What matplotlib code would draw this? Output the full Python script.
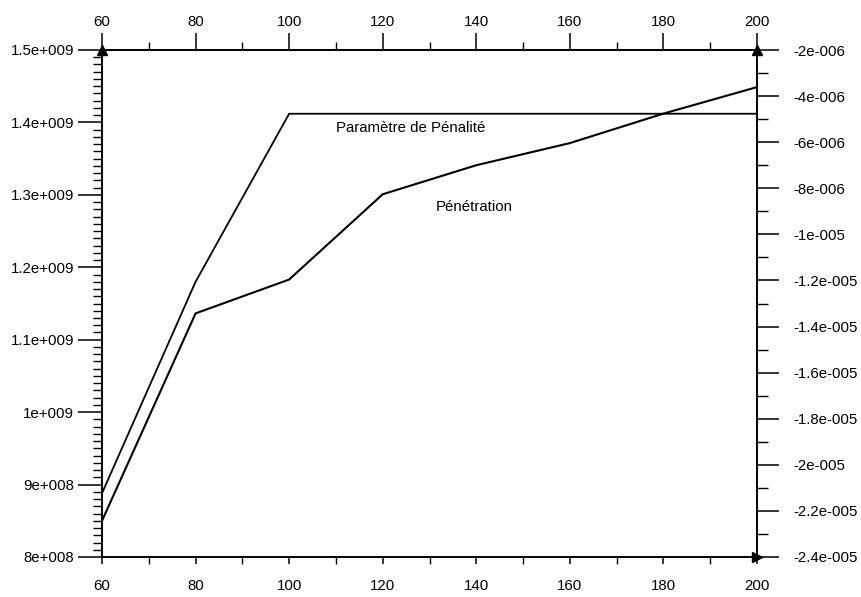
import matplotlib
matplotlib.use("Agg")
import matplotlib.pyplot as plt
from matplotlib.ticker import FixedLocator, MultipleLocator

plt.rcParams['font.family'] = ['Liberation Sans', 'DejaVu Sans']

# Series
x_vals = [60, 80, 100, 120, 140, 160, 180, 200]
penalite = [8.88e8, 1.180e9, 1.412e9, 1.412e9, 1.412e9, 1.412e9, 1.412e9, 1.412e9]
penetration = [-2.243e-5, -1.343e-5, -1.196e-5, -8.26e-6, -7.0e-6, -6.04e-6, -4.76e-6, -3.61e-6]

# Axes ticks and labels
x_ticks = [60, 80, 100, 120, 140, 160, 180, 200]
x_labels = ["60", "80", "100", "120", "140", "160", "180", "200"]
left_ticks = [8e8, 9e8, 1e9, 1.1e9, 1.2e9, 1.3e9, 1.4e9, 1.5e9]
left_labels = ["8e+008", "9e+008", "1e+009", "1.1e+009", "1.2e+009",
               "1.3e+009", "1.4e+009", "1.5e+009"]
right_ticks = [-2.4e-5, -2.2e-5, -2e-5, -1.8e-5, -1.6e-5, -1.4e-5,
               -1.2e-5, -1e-5, -8e-6, -6e-6, -4e-6, -2e-6]
right_labels = ["-2.4e-005", "-2.2e-005", "-2e-005", "-1.8e-005", "-1.6e-005",
                "-1.4e-005", "-1.2e-005", "-1e-005", "-8e-006", "-6e-006",
                "-4e-006", "-2e-006"]

label_penalite = "Paramètre de Pénalité"
label_penetration = "Pénétration"

W, H = 862, 597
fig = plt.figure(figsize=(W / 100, H / 100), dpi=100)
ax = fig.add_axes([102 / W, 1 - 557 / H, 655 / W, 507 / H])
ax2 = ax.twinx()
top = ax.secondary_xaxis('top')

fs = 10.8
lw_axis = 1.2

ax.set_xlim(60, 200)
ax.set_ylim(8e8, 1.5e9)
ax2.set_ylim(-2.4e-5, -2e-6)

ax.plot(x_vals, penalite, color='black', lw=1.3, solid_joinstyle='miter')
ax2.plot(x_vals, penetration, color='black', lw=1.5, solid_joinstyle='miter')

for a in (ax, ax2):
    for s in a.spines.values():
        s.set_linewidth(lw_axis)
top.spines['top'].set_linewidth(lw_axis)

# bottom axis
ax.xaxis.set_major_locator(FixedLocator(x_ticks))
ax.set_xticklabels(x_labels, fontsize=fs)
ax.xaxis.set_minor_locator(MultipleLocator(10))
ax.tick_params(axis='x', which='major', direction='out', length=5, width=1.1, pad=11)
ax.tick_params(axis='x', which='minor', direction='out', length=5, width=1.0)

# top axis
top.xaxis.set_major_locator(FixedLocator(x_ticks))
top.set_xticklabels(x_labels, fontsize=fs)
top.xaxis.set_minor_locator(MultipleLocator(10))
top.tick_params(axis='x', which='major', direction='out', length=12, width=1.1, pad=3)
top.tick_params(axis='x', which='minor', direction='out', length=5.5, width=1.0)

# left axis
ax.yaxis.set_major_locator(FixedLocator(left_ticks))
ax.set_yticklabels(left_labels, fontsize=fs)
ax.yaxis.set_minor_locator(MultipleLocator(1e7))
ax.tick_params(axis='y', which='major', direction='out', length=17, width=1.1, pad=3)
ax.tick_params(axis='y', which='minor', direction='out', length=6.5, width=1.0)

# right axis
ax2.yaxis.set_major_locator(FixedLocator(right_ticks))
ax2.set_yticklabels(right_labels, fontsize=fs)
ax2.yaxis.set_minor_locator(MultipleLocator(1e-6))
ax2.tick_params(axis='y', which='major', direction='out', length=15.5, width=1.1, pad=10.5)
ax2.tick_params(axis='y', which='minor', direction='out', length=8, width=1.0)

# arrow heads at the axis ends
ax.plot([60], [1.5e9], marker='^', color='black', ms=7, clip_on=False, zorder=5)
ax.plot([200], [1.5e9], marker='^', color='black', ms=7, clip_on=False, zorder=5)
ax.plot([200], [8e8], marker='>', color='black', ms=7, clip_on=False, zorder=5)

# curve labels
ax.text(126.0, 1.392e9, label_penalite, fontsize=fs, ha='center', va='center')
ax.text(139.5, 1.283e9, label_penetration, fontsize=fs, ha='center', va='center')

fig.savefig("out.png", dpi=100)
